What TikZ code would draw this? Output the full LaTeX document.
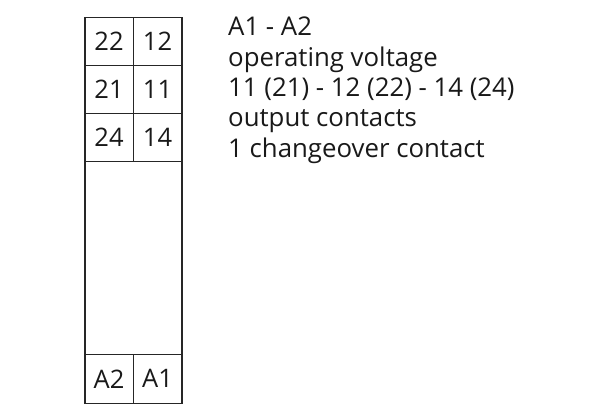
\documentclass[tikz,border=0pt]{standalone}
\usepackage{fontspec}
\setmainfont{Open Sans}
\begin{document}
\begin{tikzpicture}[x=1pt,y=-1pt,
  cell/.style={draw=black!85,line width=1.6pt,minimum width=48.5pt,minimum height=48pt,inner sep=0pt,anchor=north west,font=\fontsize{25.5}{27}\selectfont,text=black!90},
  big/.style={draw=black!85,line width=1.6pt,minimum width=97pt,minimum height=193pt,inner sep=0pt,anchor=north west},
  info/.style={anchor=base west,inner sep=0pt,font=\fontsize{25.8}{28}\selectfont,text=black!90}]
\useasboundingbox (0,0) rectangle (608,416);
\node[cell] (c22) at (84,16.5) {22};
\node[cell] (c12) at (132.5,16.5) {12};
\node[cell] (c21) at (84,64.5) {21};
\node[cell] (c11) at (132.5,64.5) {11};
\node[cell] (c24) at (84,112.5) {24};
\node[cell] (c14) at (132.5,112.5) {14};
\node[big] (body) at (84,160.5) {};
\node[cell,minimum height=49pt] (ca2) at (84,353.5) {A2};
\node[cell,minimum height=49pt] (ca1) at (132.5,353.5) {A1};
\node[info] (t1) at (228,35) {A1 - A2};
\node[info] (t2) at (228,66) {operating voltage};
\node[info] (t3) at (228,96.5) {11 (21) - 12 (22) - 14 (24)};
\node[info] (t4) at (228,126.5) {output contacts};
\node[info] (t5) at (228,157) {1 changeover contact};
\end{tikzpicture}
\end{document}
